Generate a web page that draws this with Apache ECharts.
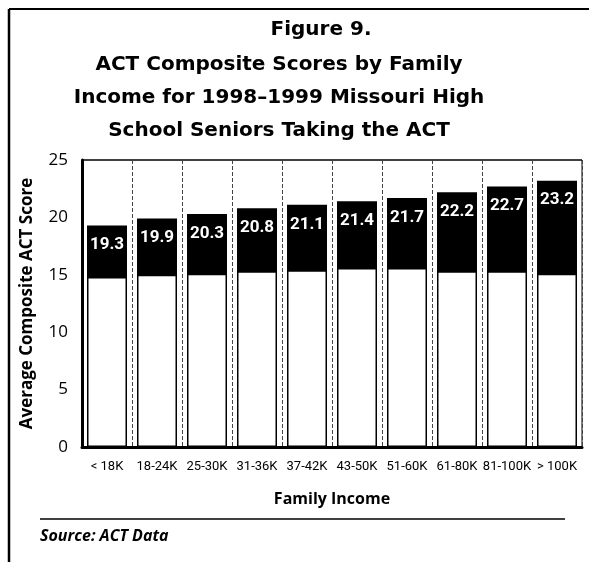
<!DOCTYPE html>
<html>
<head>
<meta charset="utf-8">
<script src="https://cdn.jsdelivr.net/npm/echarts@6/dist/echarts.min.js"></script>
<style>
  html, body { margin: 0; padding: 0; background: #fff; }
  #chart { width: 589px; height: 562px; }
</style>
</head>
<body>
<div id="chart"></div>
<script>
// income groups and mean ACT composite scores
const incomeGroups = ['< 18K', '18-24K', '25-30K', '31-36K', '37-42K', '43-50K', '51-60K', '61-80K', '81-100K', '> 100K']
const actScores = [19.3, 19.9, 20.3, 20.8, 21.1, 21.4, 21.7, 22.2, 22.7, 23.2]
// where the black cap starts on each bar
const capBase = [14.8, 15.0, 15.1, 15.3, 15.4, 15.6, 15.6, 15.3, 15.3, 15.1]
const yTicks = [0, 5, 10, 15, 20, 25]

const chart = echarts.init(document.getElementById('chart'))
const heavy = "'DejaVu Sans', sans-serif"

const option = {
  backgroundColor: '#fff',
  animation: false,
  title: [
    {
      text: 'Figure 9.',
      left: 316,
      top: 15,
      textAlign: 'center',
      textStyle: { fontFamily: heavy, fontWeight: 'bold', fontSize: 20, color: '#000' }
    },
    {
      text: 'ACT Composite Scores by Family\nIncome for 1998\u20131999 Missouri High\nSchool Seniors Taking the ACT',
      left: 274,
      top: 43,
      textAlign: 'center',
      textStyle: { fontFamily: heavy, fontWeight: 'bold', fontSize: 20, lineHeight: 33, color: '#000' }
    }
  ],
  grid: { left: 82, right: 7, top: 160, bottom: 115 },
  xAxis: {
    type: 'category',
    data: incomeGroups,
    name: 'Family Income',
    nameLocation: 'middle',
    nameGap: 44,
    nameTextStyle: { fontFamily: 'Open Sans', fontWeight: 'bold', fontSize: 16, color: '#000' },
    axisLine: { lineStyle: { color: '#000', width: 3 } },
    axisTick: { show: false },
    axisLabel: { fontFamily: 'Roboto', fontSize: 13, color: '#000', margin: 13, interval: 0 },
    splitLine: { show: true, interval: 0, lineStyle: { color: '#444', width: 1, type: [4, 2] } }
  },
  yAxis: {
    type: 'value',
    min: 0,
    max: 25,
    interval: 5,
    name: 'Average Composite ACT Score',
    nameLocation: 'middle',
    nameGap: 46,
    nameTextStyle: { fontFamily: 'Open Sans', fontWeight: 'bold', fontSize: 17, color: '#000' },
    axisLine: { show: true, lineStyle: { color: '#000', width: 3 } },
    axisTick: { show: false },
    axisLabel: {
      fontFamily: 'Open Sans', fontSize: 17, color: '#000', margin: 14,
      formatter: v => (yTicks.includes(v) ? String(v) : '')
    },
    splitLine: { show: false }
  },
  series: [
    {
      name: 'Score',
      type: 'bar',
      data: actScores,
      barWidth: '80%',
      z: 2,
      itemStyle: { color: '#000' },
      label: {
        show: true,
        position: 'insideTop',
        distance: 11,
        color: '#fff',
        fontFamily: 'Roboto',
        fontWeight: 'bold',
        fontSize: 17,
        formatter: p => p.value.toFixed(1)
      }
    },
    {
      name: 'Base',
      type: 'bar',
      data: capBase,
      barWidth: '80%',
      barGap: '-100%',
      z: 3,
      itemStyle: { color: '#fff', borderColor: '#000', borderWidth: 1.5 },
      label: { show: false }
    }
  ],
  graphic: [
    // outer frame (left and top edges)
    { type: 'line', shape: { x1: 9, y1: 9, x2: 9, y2: 562 }, style: { stroke: '#000', lineWidth: 2.5 } },
    { type: 'line', shape: { x1: 9, y1: 9, x2: 589, y2: 9 }, style: { stroke: '#000', lineWidth: 2 } },
    // plot box top and right
    { type: 'line', shape: { x1: 82, y1: 160, x2: 582, y2: 160 }, style: { stroke: '#000', lineWidth: 1.5 } },
    { type: 'line', shape: { x1: 582, y1: 160, x2: 582, y2: 447 }, style: { stroke: '#000', lineWidth: 1 } },
    // source rule
    { type: 'line', shape: { x1: 40, y1: 519, x2: 565, y2: 519 }, style: { stroke: '#000', lineWidth: 1.5 } },
    {
      type: 'text',
      left: 40,
      top: 528,
      style: { text: 'Source: ACT Data', fontFamily: 'Open Sans', fontStyle: 'italic', fontWeight: 'bold', fontSize: 16, fill: '#000' }
    }
  ]
}

chart.setOption(option)
</script>
</body>
</html>
